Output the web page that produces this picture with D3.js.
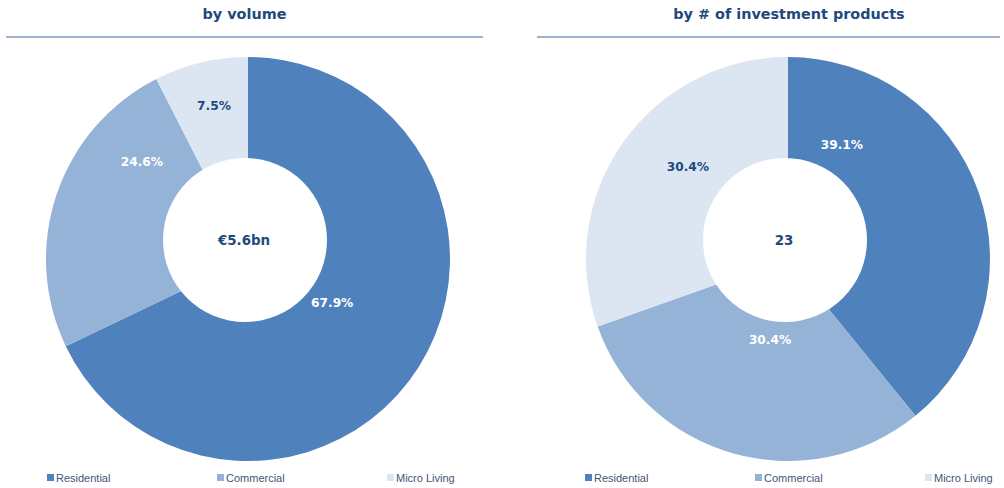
<!DOCTYPE html>
<html>
<head>
<meta charset="utf-8">
<script src="https://cdn.jsdelivr.net/npm/d3@7"></script>
<style>
  body { margin: 0; background: #fff; }
  svg { display: block; }
</style>
</head>
<body>
<div id="chart"></div>
<script>
// data
const categories = ['Residential', 'Commercial', 'Micro Living'];
const volumeShares = [67.9, 24.6, 7.5];
const productShares = [39.1, 30.4, 30.4];
const titles = ['by volume', 'by # of investment products'];
const centerLabels = ['\u20ac5.6bn', '23'];

const colors = ['#4f81bd', '#95b3d7', '#dce6f2'];
const labelColors = ['#ffffff', '#ffffff', '#1f497d'];

// label placement (Excel "best fit"), polar: [deg clockwise from top, radius]
const labelPolar = [
  [[117.6, 95], [312.5, 144], [347.5, 157]],
  [[25.3, 126], [192.5, 83], [312.6, 136]]
];

const width = 1004, height = 488;
const svg = d3.select('#chart').append('svg')
  .attr('width', width).attr('height', height);

const panels = [
  { cx: 248, titleX: 244.5, lineX: [6, 483], legendX: 47, values: volumeShares },
  { cx: 788, titleX: 789, lineX: [537, 1000], legendX: 585, values: productShares }
];

const cy = 259, outerR = 202, holeR = 82;
const pie = d3.pie().sort(null).value(d => d);
const arc = d3.arc().innerRadius(0).outerRadius(outerR);

panels.forEach(function(p, k) {
  const g = svg.append('g');

  g.append('text')
    .attr('x', p.titleX)
    .attr('y', 14)
    .attr('text-anchor', 'middle')
    .attr('dominant-baseline', 'central')
    .style('font-family', 'DejaVu Sans, Verdana, sans-serif')
    .style('font-weight', 'bold')
    .style('font-size', '14.4px')
    .style('fill', '#1f497d')
    .text(titles[k]);

  g.append('line')
    .attr('x1', p.lineX[0]).attr('x2', p.lineX[1])
    .attr('y1', 37).attr('y2', 37)
    .style('stroke', '#7f98bd')
    .style('stroke-width', 1.5);

  const pg = g.append('g').attr('transform', 'translate(' + [p.cx, cy] + ')');
  const arcs = pie(p.values);

  pg.selectAll('path')
    .data(arcs)
    .enter().append('path')
    .attr('d', arc)
    .style('fill', (d, i) => colors[i]);

  // hole sits a little above/left of the pie centre, as in the source
  pg.append('circle')
    .attr('cx', -3).attr('cy', -19)
    .attr('r', holeR)
    .style('fill', '#fff');

  pg.append('text')
    .attr('x', -4).attr('y', -19)
    .attr('text-anchor', 'middle')
    .attr('dominant-baseline', 'central')
    .style('font-family', 'DejaVu Sans, Verdana, sans-serif')
    .style('font-weight', 'bold')
    .style('font-size', '13.4px')
    .style('fill', '#1f497d')
    .text(centerLabels[k]);

  pg.selectAll('text.pct')
    .data(arcs)
    .enter().append('text')
    .classed('pct', true)
    .attr('transform', function(d, i) {
      const lp = labelPolar[k][i];
      return 'translate(' + d3.pointRadial(lp[0] * Math.PI / 180, lp[1]) + ')';
    })
    .attr('text-anchor', 'middle')
    .attr('dominant-baseline', 'central')
    .style('font-family', 'DejaVu Sans, Verdana, sans-serif')
    .style('font-weight', 'bold')
    .style('font-size', '12.2px')
    .style('fill', (d, i) => labelColors[i])
    .text(d => d3.format('.1f')(d.data) + '%');

  const legend = g.selectAll('g.legend')
    .data(categories)
    .enter().append('g')
    .classed('legend', true)
    .attr('transform', (d, i) => 'translate(' + [p.legendX + i * 170, 478] + ')');

  legend.append('rect')
    .attr('x', 0).attr('y', -4)
    .attr('width', 7).attr('height', 7)
    .style('fill', (d, i) => colors[i]);

  legend.append('text')
    .attr('x', 9).attr('y', 0)
    .attr('dominant-baseline', 'central')
    .style('font-family', 'Liberation Sans, Arial, sans-serif')
    .style('font-size', '11px')
    .style('fill', '#3f5677')
    .text(d => d);
});
</script>
</body>
</html>
